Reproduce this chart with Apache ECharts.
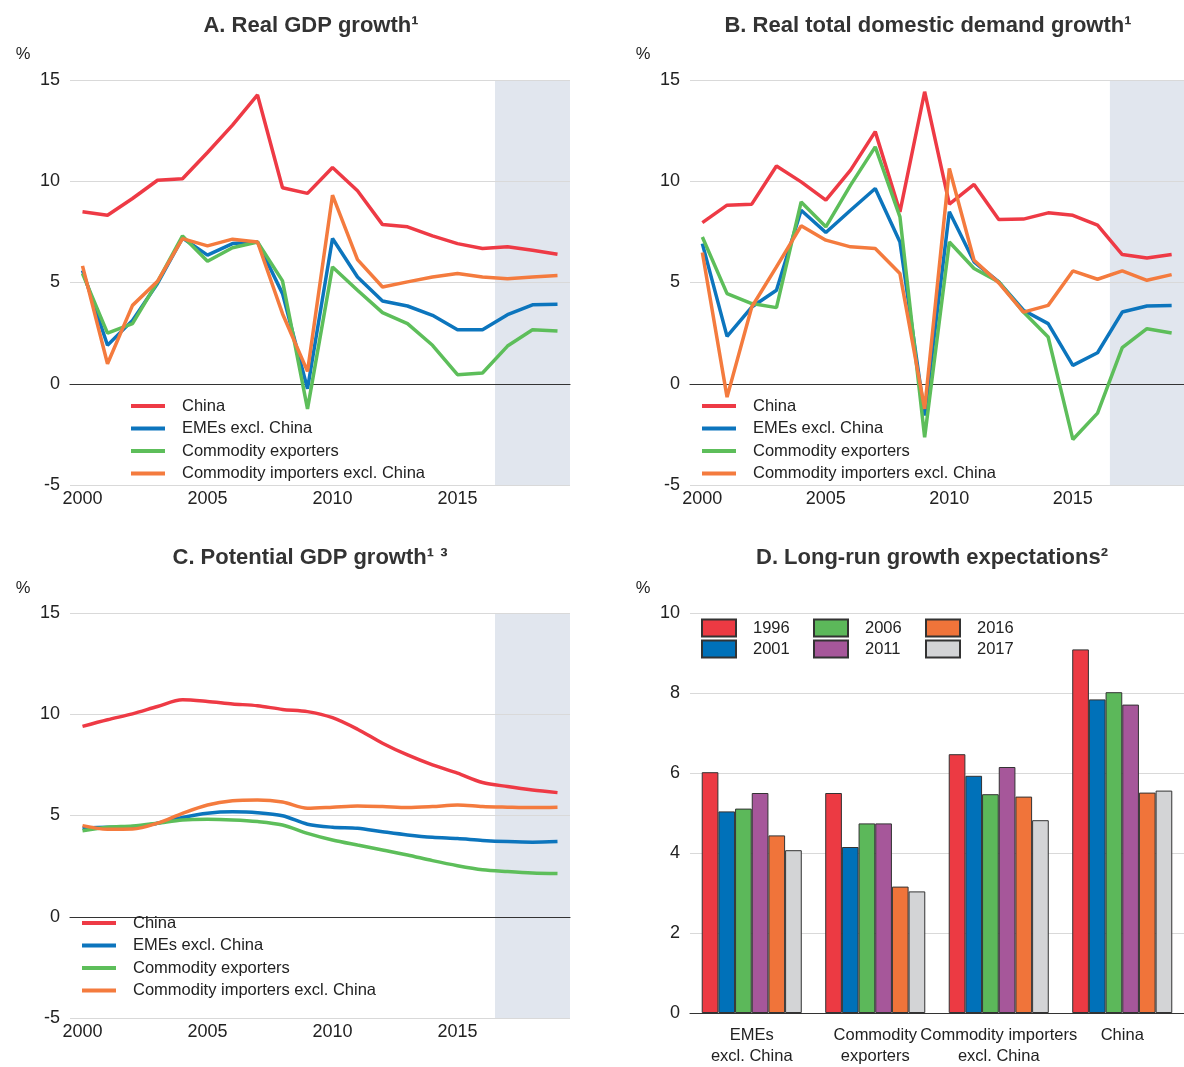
<!DOCTYPE html>
<html>
<head>
<meta charset="utf-8">
<script src="https://cdn.jsdelivr.net/npm/echarts@6/dist/echarts.min.js"></script>
<style>
  html, body { margin: 0; padding: 0; background: #fff; }
  #chart { width: 1184px; height: 1067px; }
</style>
</head>
<body>
<div id="chart"></div>
<script>
// ---- Data -------------------------------------------------------------
const years = ['2000','2001','2002','2003','2004','2005','2006','2007','2008','2009',
               '2010','2011','2012','2013','2014','2015','2016','2017','2018','2019'];
const seriesNames = ['China', 'EMEs excl. China', 'Commodity exporters', 'Commodity importers excl. China'];

// A. Real GDP growth (%)
const gdpChina     = [8.49, 8.32, 9.15, 10.05, 10.12, 11.42, 12.77, 14.26, 9.68, 9.40, 10.68, 9.53, 7.86, 7.75, 7.30, 6.92, 6.68, 6.77, 6.59, 6.40];
const gdpEmes      = [5.60, 1.90, 3.13, 4.95, 7.20, 6.35, 6.92, 7.00, 4.45, -0.25, 7.17, 5.27, 4.09, 3.84, 3.38, 2.67, 2.67, 3.41, 3.90, 3.92];
const gdpExporters = [5.44, 2.50, 2.97, 5.03, 7.30, 6.05, 6.72, 7.00, 5.08, -1.24, 5.77, 4.62, 3.51, 2.97, 1.90, 0.45, 0.53, 1.86, 2.67, 2.60];
const gdpImporters = [5.82, 0.99, 3.87, 5.06, 7.17, 6.81, 7.14, 7.00, 3.46, 0.61, 9.31, 6.13, 4.78, 5.03, 5.27, 5.44, 5.27, 5.19, 5.27, 5.34];

// B. Real total domestic demand growth (%)
const ddChina     = [7.96, 8.82, 8.87, 10.75, 9.97, 9.07, 10.55, 12.45, 8.49, 14.42, 8.87, 9.84, 8.11, 8.13, 8.44, 8.32, 7.83, 6.38, 6.21, 6.38];
const ddEmes      = [6.92, 2.34, 3.79, 4.62, 8.57, 7.47, 8.57, 9.64, 7.00, -1.57, 8.49, 6.02, 5.03, 3.63, 2.97, 0.91, 1.53, 3.54, 3.84, 3.87];
const ddExporters = [7.25, 4.45, 3.96, 3.76, 8.98, 7.75, 9.81, 11.70, 8.24, -2.64, 7.00, 5.69, 5.03, 3.54, 2.31, -2.75, -1.45, 1.78, 2.72, 2.51];
const ddImporters = [6.48, -0.66, 3.79, 5.77, 7.80, 7.09, 6.76, 6.68, 5.44, -1.24, 10.63, 6.10, 4.98, 3.54, 3.87, 5.57, 5.16, 5.57, 5.11, 5.39];

// C. Potential GDP growth (%)
const potChina     = [9.40, 9.73, 10.02, 10.38, 10.71, 10.63, 10.51, 10.42, 10.24, 10.13, 9.83, 9.26, 8.57, 7.99, 7.50, 7.09, 6.63, 6.43, 6.26, 6.13];
const potEmes      = [4.37, 4.42, 4.42, 4.62, 4.90, 5.11, 5.18, 5.14, 4.99, 4.57, 4.42, 4.37, 4.20, 4.04, 3.92, 3.86, 3.77, 3.71, 3.68, 3.71];
const potExporters = [4.25, 4.42, 4.48, 4.62, 4.78, 4.81, 4.78, 4.70, 4.53, 4.12, 3.79, 3.54, 3.30, 3.05, 2.77, 2.52, 2.32, 2.23, 2.16, 2.13];
const potImporters = [4.50, 4.32, 4.33, 4.62, 5.11, 5.52, 5.73, 5.77, 5.67, 5.36, 5.41, 5.47, 5.44, 5.39, 5.44, 5.52, 5.44, 5.41, 5.39, 5.41];

// D. Long-run growth expectations (%), one array per survey year
const groupLabels = ['EMEs\nexcl. China', 'Commodity\nexporters', 'Commodity importers\nexcl. China', 'China'];
const surveyYears = ['1996', '2001', '2006', '2011', '2016', '2017'];
const exp1996 = [6.02, 5.50, 6.47, 9.09];
const exp2001 = [5.04, 4.15, 5.93, 7.84];
const exp2006 = [5.11, 4.74, 5.47, 8.02];
const exp2011 = [5.50, 4.74, 6.15, 7.71];
const exp2016 = [4.44, 3.16, 5.41, 5.51];
const exp2017 = [4.07, 3.04, 4.82, 5.56];

// Forecast span on the yearly panels (category index boundaries)
const forecastFrom = 16.5;
const forecastTo = 19.5;

// ---- Styling ----------------------------------------------------------
const FONT = '"Liberation Sans", Arial, Helvetica, sans-serif';
const TXT = '#222';
const GRIDLINE = '#d9d9d9';
const lineColors = ['#ee3a45', '#0c75bd', '#5dbe5a', '#f47b3e'];
const barColors = ['#ec3a43', '#0071b9', '#5cb85a', '#a6579a', '#f0743a', '#d3d4d6'];

const panelData = [
  [gdpChina, gdpEmes, gdpExporters, gdpImporters],
  [ddChina, ddEmes, ddExporters, ddImporters],
  [potChina, potEmes, potExporters, potImporters]
];
const barData = [exp1996, exp2001, exp2006, exp2011, exp2016, exp2017];

const grids = [
  { left: 70,  top: 80,  width: 500, height: 405 },
  { left: 690, top: 80,  width: 500, height: 405 },
  { left: 70,  top: 613, width: 500, height: 405 },
  { left: 690, top: 613, width: 500, height: 405 }
];

const xAxes = [];
const yAxes = [];
const series = [];

// Yearly line panels
for (let p = 0; p < 3; p++) {
  xAxes.push({
    type: 'category', gridIndex: p, data: years, boundaryGap: true,
    axisLine: { lineStyle: { color: '#333', width: 1.2 } },
    axisTick: { inside: true, length: 5, interval: 0, lineStyle: { color: '#333' } },
    axisLabel: { interval: 4, margin: 5, fontSize: 18, color: TXT, fontFamily: FONT },
    splitLine: { show: false }
  });
  yAxes.push({
    type: 'value', gridIndex: p, min: -5, max: 15, interval: 5,
    axisLine: { show: false }, axisTick: { show: false },
    axisLabel: { margin: 10, fontSize: 18, color: TXT, fontFamily: FONT },
    splitLine: { lineStyle: { color: [GRIDLINE, '#333', GRIDLINE, GRIDLINE, GRIDLINE], width: 1.2 } }
  });
}

// Bar panel
xAxes.push({
  type: 'category', gridIndex: 3, data: groupLabels,
  axisLine: { lineStyle: { color: '#333', width: 1.2 } },
  axisTick: { show: false },
  axisLabel: { interval: 0, margin: 12, fontSize: 16.5, lineHeight: 21, color: TXT, fontFamily: FONT }
});
yAxes.push({
  type: 'value', gridIndex: 3, min: 0, max: 10, interval: 2,
  axisLine: { show: false }, axisTick: { show: false },
  axisLabel: { margin: 10, fontSize: 18, color: TXT, fontFamily: FONT },
  splitLine: { lineStyle: { color: GRIDLINE, width: 1.2 } }
});

// Hidden numeric x axes for the forecast shading (indices 4..6)
for (let p = 0; p < 3; p++) {
  xAxes.push({ type: 'value', gridIndex: p, min: -0.5, max: 19.5, show: false });
}

for (let p = 0; p < 3; p++) {
  series.push({
    type: 'line', xAxisIndex: 4 + p, yAxisIndex: p, data: [], silent: true,
    markArea: {
      silent: true, z: -1,
      itemStyle: { color: '#e1e6ee' },
      data: [[{ xAxis: forecastFrom }, { xAxis: forecastTo }]]
    }
  });
  panelData[p].forEach((vals, i) => {
    series.push({
      name: seriesNames[i], type: 'line', xAxisIndex: p, yAxisIndex: p,
      data: vals, symbol: 'none', smooth: p === 2 ? 0.3 : false,
      lineStyle: { width: 3.5, color: lineColors[i] },
      itemStyle: { color: lineColors[i] }, z: 3
    });
  });
}

barData.forEach((vals, i) => {
  series.push({
    name: surveyYears[i], type: 'bar', xAxisIndex: 3, yAxisIndex: 3, data: vals,
    barGap: '0%', barCategoryGap: '19%',
    itemStyle: { color: barColors[i], borderColor: '#333', borderWidth: 1 }
  });
});

const lineLegend = (left, top) => ({
  orient: 'vertical', left, top, padding: 0, icon: 'rect', itemWidth: 34, itemHeight: 4, itemGap: 4.5,
  selectedMode: false, data: seriesNames,
  textStyle: { fontSize: 16.5, color: TXT, fontFamily: FONT, lineHeight: 18, padding: [0, 0, 0, 12] }
});
const barLegend = (left, names) => ({
  orient: 'vertical', left, top: 618.5, padding: 0, icon: 'rect', itemWidth: 34, itemHeight: 17, itemGap: 2,
  selectedMode: false, data: names,
  textStyle: { fontSize: 16.5, color: TXT, fontFamily: FONT, lineHeight: 17, padding: [0, 0, 0, 12] }
});

const titleText = (x, y, text) => ({
  type: 'text', x, y, silent: true,
  style: { text, font: 'bold 22px ' + FONT, fill: '#333', align: 'center', verticalAlign: 'middle' }
});
const unitText = (x, y) => ({
  type: 'text', x, y, silent: true,
  style: { text: '%', font: '16.5px ' + FONT, fill: TXT, align: 'center', verticalAlign: 'middle' }
});

const option = {
  animation: false,
  backgroundColor: '#fff',
  grid: grids,
  xAxis: xAxes,
  yAxis: yAxes,
  legend: [
    lineLegend(131, 397),
    lineLegend(702, 397),
    lineLegend(82, 914),
    barLegend(701, ['1996', '2001']),
    barLegend(813, ['2006', '2011']),
    barLegend(925, ['2016', '2017'])
  ],
  graphic: [
    titleText(311, 26, 'A. Real GDP growth¹'),
    titleText(928, 26, 'B. Real total domestic demand growth¹'),
    titleText(310, 558, 'C. Potential GDP growth¹ ³'),
    titleText(932, 558, 'D. Long-run growth expectations²'),
    unitText(23, 54), unitText(643, 54), unitText(23, 588), unitText(643, 588)
  ],
  series
};

const chart = echarts.init(document.getElementById('chart'), null, { renderer: 'canvas' });
chart.setOption(option);
</script>
</body>
</html>
